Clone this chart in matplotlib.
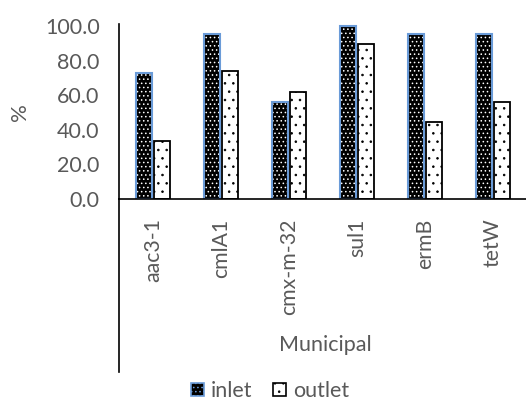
import matplotlib
matplotlib.use('Agg')
import matplotlib.pyplot as plt
from matplotlib.patches import Patch
from matplotlib.lines import Line2D
import numpy as np

# data
genes = ['aac3-1', 'cmlA1', 'cmx-m-32', 'sul1', 'ermB', 'tetW']
inlet = [73.0, 95.2, 56.1, 100.0, 95.4, 95.4]
outlet = [33.7, 74.0, 61.7, 89.8, 44.5, 56.1]
group_label = 'Municipal'

grey = '#595959'
blue_edge = '#6A9BD8'
plt.rcParams['font.family'] = ['Lato', 'DejaVu Sans']
plt.rcParams['hatch.linewidth'] = 0.6

fig = plt.figure(figsize=(5.26, 4.03), dpi=100)
ax = fig.add_axes([119/526, 1-199/403, 408/526, 175/403])

x = np.arange(len(genes))
w = 0.235
gap = 0.02
xi = x - w/2 - gap/2
xo = x + w/2 + gap/2

# inlet: black with white dots, blue outline
ax.bar(xi, inlet, w, color='black', edgecolor='white', hatch='....', linewidth=0)
ax.bar(xi, inlet, w, fill=False, edgecolor=blue_edge, linewidth=1.5)
# outlet: white with black sparse dots, black outline
ax.bar(xo, outlet, w, color='white', edgecolor='black', hatch='..', linewidth=0)
ax.bar(xo, outlet, w, fill=False, edgecolor='black', linewidth=1.3)

ax.set_xlim(-0.5, len(genes) - 0.5)
ax.set_ylim(0, 101.2)
ax.set_yticks(np.arange(0, 101, 20))
ax.set_yticklabels([f'{v:.1f}' for v in np.arange(0, 101, 20)])
ax.tick_params(axis='y', length=0, labelsize=15.5, labelcolor=grey, pad=14)
ax.set_xticks(x)
ax.set_xticklabels(genes, rotation=90, va='top')
ax.tick_params(axis='x', length=0, labelsize=15.3, labelcolor=grey, pad=14)

for s in ['top', 'right']:
    ax.spines[s].set_visible(False)
ax.spines['left'].set_color('black')
ax.spines['left'].set_linewidth(1.2)
ax.spines['bottom'].set_color('black')
ax.spines['bottom'].set_linewidth(1.2)

# group bracket line under the axis
ax.add_line(Line2D([0, 0], [0, -0.99], transform=ax.transAxes, color='black',
                   lw=1.2, clip_on=False))
fig.text(20/526, 1-112/403, '%', rotation=90, ha='center', va='center',
         fontsize=16, color=grey)
fig.text(325/526, 1-345/403, group_label, ha='center', va='center',
         fontsize=15.5, color=grey)

handles = [Patch(facecolor='black', edgecolor=blue_edge, hatch='....', linewidth=1.2),
           Patch(facecolor='white', edgecolor='black', hatch='..', linewidth=1.2)]
fig.legend(handles, ['inlet', 'outlet'], loc='center', bbox_to_anchor=(270/526, 1-391/403),
           ncol=2, frameon=False, fontsize=15.5, labelcolor=grey, handlelength=0.6,
           handleheight=0.6, handletextpad=0.3, columnspacing=1.0, borderpad=0.2)

fig.savefig('out.png', dpi=100)
